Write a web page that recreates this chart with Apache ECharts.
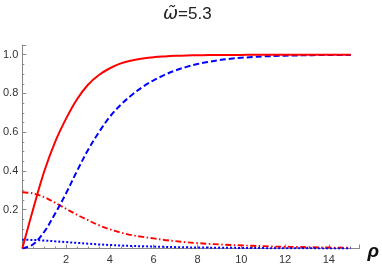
<!DOCTYPE html>
<html>
<head>
<meta charset="utf-8">
<script src="https://cdn.jsdelivr.net/npm/echarts@6/dist/echarts.min.js"></script>
<style>html,body{margin:0;padding:0;background:#fff}#c{width:382px;height:266px}</style>
</head>
<body>
<div id="c"></div>
<script>
const titleSymbol = "ω̃";
const titleValue = "=5.3";
const xName = "ρ";
const rho =        [0, 0.5, 1, 1.5, 2, 2.5, 3, 3.5, 4, 4.5, 5, 5.5, 6, 6.5, 7, 7.5, 8, 8.5, 9, 9.5, 10, 10.5, 11, 11.5, 12, 12.5, 13, 13.5, 14, 14.5, 15];
const redSolid =   [0, 0.205, 0.397, 0.55, 0.67, 0.77, 0.845, 0.895, 0.93, 0.955, 0.97, 0.98, 0.987, 0.991, 0.994, 0.996, 0.997, 0.998, 0.999, 0.999, 0.999, 1, 1, 1, 1, 1, 1, 1, 1, 1, 1];
const blueDashed = [0, 0.022, 0.086, 0.18, 0.285, 0.40, 0.508, 0.60, 0.68, 0.742, 0.792, 0.834, 0.868, 0.896, 0.919, 0.937, 0.952, 0.963, 0.972, 0.979, 0.984, 0.988, 0.991, 0.993, 0.995, 0.996, 0.997, 0.998, 0.998, 0.999, 0.999];
const redDashDot = [0.29, 0.284, 0.265, 0.236, 0.205, 0.174, 0.146, 0.12, 0.099, 0.082, 0.069, 0.06, 0.052, 0.044, 0.038, 0.032, 0.028, 0.024, 0.021, 0.018, 0.016, 0.014, 0.012, 0.01, 0.009, 0.008, 0.007, 0.006, 0.005, 0.0045, 0.004];
const blueDotted = [0.045, 0.044, 0.041, 0.037, 0.033, 0.029, 0.025, 0.021, 0.018, 0.0155, 0.013, 0.0115, 0.01, 0.0085, 0.007, 0.006, 0.005, 0.0045, 0.004, 0.0035, 0.003, 0.0025, 0.002, 0.0017, 0.0014, 0.0011, 0.0008, 0.0006, 0.0004, 0.0002, 0];

const pairs = arr => rho.map((r, i) => [r, arr[i]]);
const font = "'Liberation Sans', Arial, sans-serif";
const axisCol = '#888';

const chart = echarts.init(document.getElementById('c'), null, {renderer: 'canvas'});
const lineSeries = (arr, color, type, width) => ({
  type: 'line', data: pairs(arr), showSymbol: false, smooth: 0.35, animation: false,
  lineStyle: {color: color, type: type, width: width}
});
chart.setOption({
  animation: false,
  title: {text: '{w|' + titleSymbol + '}' + titleValue, left: 158, top: 0,
    textStyle: {fontFamily: font, fontSize: 17, fontWeight: 'normal', color: '#222',
      rich: {w: {fontFamily: "'DejaVu Sans', sans-serif", fontStyle: 'italic', fontSize: 18, color: '#222'}}}},
  grid: {left: 21, right: 22, top: 45, bottom: 17.5, containLabel: false},
  xAxis: {
    type: 'value', min: 0, max: 15.4, interval: 2,
    name: xName, nameLocation: 'end', nameGap: 8,
    nameTextStyle: {fontFamily: font, fontSize: 19, fontWeight: 'bold', fontStyle: 'italic', color: '#111', verticalAlign: 'top', padding: [-6, 0, 0, 0]},
    axisLine: {show: true, lineStyle: {color: axisCol, width: 1}},
    axisTick: {show: true, inside: true, length: 4, lineStyle: {color: axisCol}},
    minorTick: {show: true, splitNumber: 4, length: 2, lineStyle: {color: axisCol}},
    axisLabel: {fontFamily: font, fontSize: 11, color: '#333', margin: 6,
      formatter: v => (v > 0 && Math.abs(v % 2) < 1e-9) ? String(v) : ''},
    splitLine: {show: false}
  },
  yAxis: {
    type: 'value', min: 0, max: 1.05, interval: 0.2,
    axisLine: {show: true, lineStyle: {color: axisCol, width: 1}},
    axisTick: {show: true, inside: true, length: 4, lineStyle: {color: axisCol}},
    minorTick: {show: true, splitNumber: 4, length: 2, lineStyle: {color: axisCol}},
    axisLabel: {fontFamily: font, fontSize: 11, color: '#333', margin: 4,
      formatter: v => (v > 0 && v < 1.01 && Math.abs(Math.round(v * 5) - v * 5) < 1e-6) ? v.toFixed(1) : ''},
    splitLine: {show: false}
  },
  series: [
    lineSeries(redDashDot, '#ff0000', [6, 2.5, 1.5, 2.5], 1.9),
    lineSeries(blueDotted, '#0000ff', [2, 2], 2),
    lineSeries(blueDashed, '#0000ff', [6, 3], 2),
    lineSeries(redSolid, '#ff0000', 'solid', 2)
  ]
});
</script>
</body>
</html>
